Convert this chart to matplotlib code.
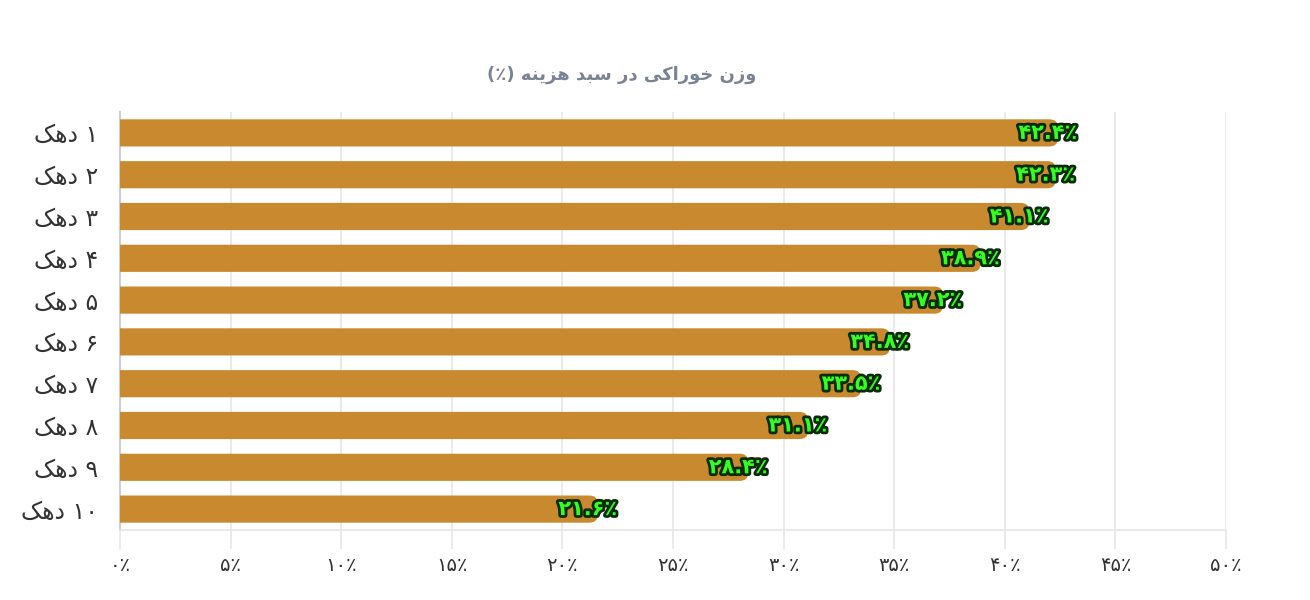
import matplotlib
matplotlib.use("Agg")
import matplotlib.pyplot as plt
import matplotlib.patheffects as pe
from matplotlib.patches import FancyBboxPatch

# ---- data ----
def fa_digits(s):
    return s.translate(str.maketrans("0123456789", "۰۱۲۳۴۵۶۷۸۹"))

# "دهک" shaped in visual order (keheh final, heh initial, dal isolated)
DAHAK = "\uFB8F\uFEEB\uFEA9"
deciles = [1, 2, 3, 4, 5, 6, 7, 8, 9, 10]
values = [42.4, 42.3, 41.1, 38.9, 37.2, 34.8, 33.5, 31.1, 28.4, 21.6]
categories = [DAHAK + " " + fa_digits(str(d)) for d in deciles]
xticks = [0, 5, 10, 15, 20, 25, 30, 35, 40, 45, 50]
xtick_labels = [fa_digits(str(t)) + "\u066A" for t in xticks]
# title "وزن خوراکی در سبد هزینه (٪)" in visual order
title = ("(\u066A) "
         + "\uFEEA\uFEE8\uFBFE\uFEB0\uFEEB" + " "
         + "\uFEAA\uFE92\uFEB3" + " "
         + "\uFEAD\uFEA9" + " "
         + "\uFBFD\uFB90\uFE8D\uFEAD\uFEEE\uFEA7" + " "
         + "\uFEE5\uFEAF\uFEED")

bar_color = "#C98A2F"

plt.rcParams["font.family"] = ["DejaVu Sans"]
fig = plt.figure(figsize=(13.1, 6), dpi=100)
ax = fig.add_axes([120/1310, 1-530/600, (1226-120)/1310, (530-112)/600])

ypos = list(range(len(categories)))
bars = ax.barh(ypos, values, height=0.65, color=bar_color, zorder=3)
ax.set_ylim(len(categories)-0.5, -0.5)
ax.set_xlim(0, 50)

# rounded right ends (left end clipped at the axis)
for b in bars:
    x, y, w, h = b.get_x(), b.get_y(), b.get_width(), b.get_height()
    b.set_visible(False)
    p = FancyBboxPatch((x - 1, y), w + 1, h,
                       boxstyle="round,pad=0,rounding_size=0.38",
                       mutation_aspect=0.5, facecolor=bar_color,
                       edgecolor="none", zorder=3, clip_on=True)
    ax.add_patch(p)

ax.set_xticks(xticks)
ax.set_xticklabels(xtick_labels, fontsize=14, color="#333333")
ax.set_yticks(ypos)
ax.set_yticklabels(categories, fontsize=17, color="#333333")
ax.tick_params(axis="y", length=0, pad=16)
ax.tick_params(axis="x", length=14, width=1.2, color="#e6e6e6", pad=5)
ax.grid(axis="x", color="#e6e6e6", linewidth=1.2, zorder=0)
for s in ["top", "right"]:
    ax.spines[s].set_visible(False)
ax.spines["left"].set_color("#ccd0d6")
ax.spines["left"].set_linewidth(1.5)
ax.spines["bottom"].set_color("#e6e6e6")
ax.spines["bottom"].set_linewidth(1.2)

for y, v in zip(ypos, values):
    ax.annotate(fa_digits(f"{v:.1f}") + "\u066A", xy=(v, y), xytext=(14, 0),
                textcoords="offset points", ha="right", va="center",
                fontsize=15, fontweight="bold", color="#33ff22", zorder=5,
                path_effects=[pe.withStroke(linewidth=4, foreground="#0a2a0a")])

fig.text(622/1310, 1-75/600, title, ha="center", va="center",
         fontsize=13, fontweight="bold", color="#7a8394")

fig.savefig("out.png", dpi=100)
